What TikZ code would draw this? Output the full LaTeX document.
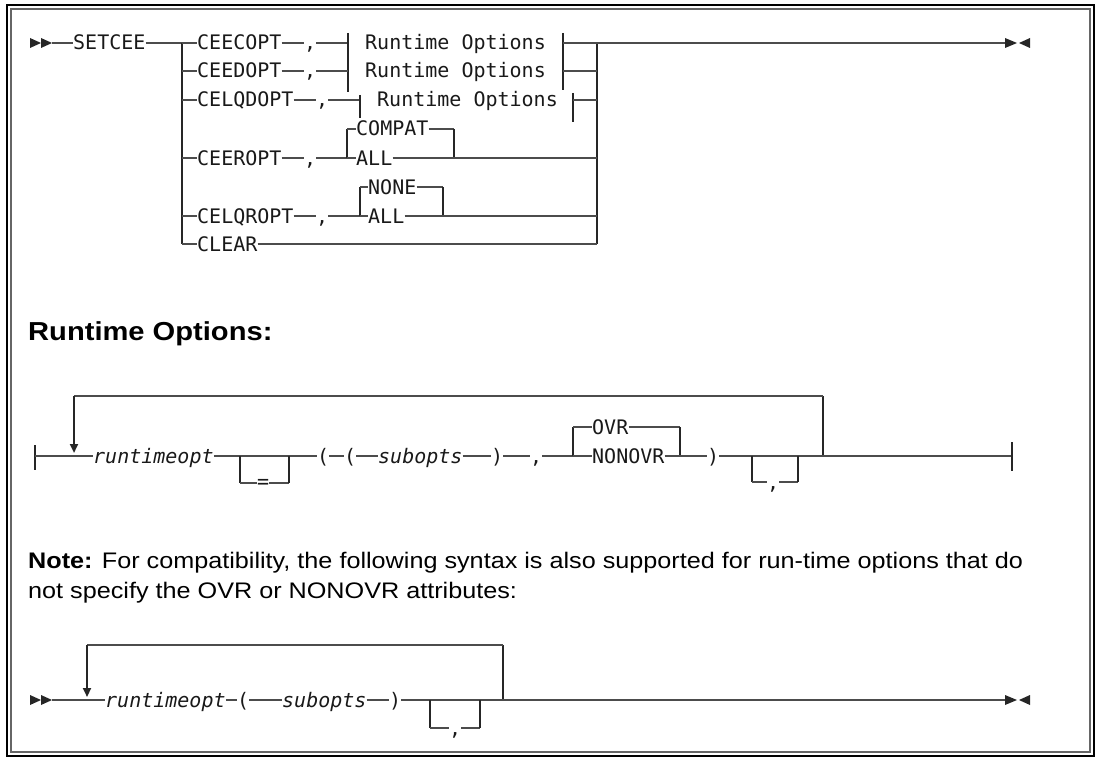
\documentclass[tikz,border=0pt]{standalone}
\usepackage{fontspec}
\setmainfont{Liberation Sans}
\newfontfamily\synfont{DejaVu Sans Mono}
\newfontfamily\notefont[FakeStretch=1.12]{Liberation Sans}
\usetikzlibrary{arrows.meta,positioning,calc}

\tikzset{
  kw/.style={font=\synfont\fontsize{20}{24}\selectfont, text=black!90, inner sep=0pt, text height=14pt, text depth=0pt, anchor=west},
  var/.style={kw, font=\synfont\itshape\fontsize{20}{24}\selectfont},
  ln/.style={draw=black!70, line width=1.3pt},
  bar/.style={draw=black!85, line width=2.6pt},
  backtip/.style={bar, -{Triangle[length=9pt,width=8pt]}, shorten >=3pt},
  prose/.style={anchor=base west, inner sep=0pt, font=\notefont\fontsize{22.5}{26}\selectfont},
}

% double arrowheads at the start and the end of a diagram
\newcommand\startmark[1]{%
  \fill[black!85] (#1) -- ++(-11,-5) -- ++(0,10) -- cycle;
  \fill[black!85] ([xshift=-11pt]#1) -- ++(-11,-5) -- ++(0,10) -- cycle;}
\newcommand\finishmark[1]{%
  \fill[black!85] ([xshift=12pt]#1) -- ++(-12,-5) -- ++(0,10) -- cycle;
  \fill[black!85] ([xshift=14pt]#1) -- ++(11,-5) -- ++(0,10) -- cycle;}

\begin{document}
\begin{tikzpicture}[x=1pt, y=-1pt]
\useasboundingbox (0,0) rectangle (1095,757);

% frame
\draw[black, line width=1.5pt] (7,5) rectangle (1094,756);
\draw[black!60, line width=1.5pt] (11,9) rectangle (1090,752);

% SETCEE
\coordinate (in1) at (52,43);
\node[kw] (setcee)   at (73,43)   {SETCEE};
\coordinate (sp1)  at (182,43);
\coordinate (sp1b) at (182,244);

\node[kw] (ceecopt)  at (197,43)  {CEECOPT};
\node[kw] (c1)       at (304,43)  {,};
\coordinate (b1l) at (348,43);
\node[kw] (rto1)     at (365,43)  {Runtime Options};
\coordinate (b1r) at (563,43);
\coordinate (jn1) at (597,43);
\coordinate (out1) at (1005,43);

\node[kw] (ceedopt)  at (197,71)  {CEEDOPT};
\node[kw] (c2)       at (304,71)  {,};
\coordinate (b2l) at (348,71);
\node[kw] (rto2)     at (365,71)  {Runtime Options};
\coordinate (b2r) at (563,71);
\coordinate (jn2) at (597,71);

\node[kw] (celqdopt) at (197,100) {CELQDOPT};
\node[kw] (c3)       at (316,100) {,};
\coordinate (b3l) at (360,100);
\node[kw] (rto3)     at (377,100) {Runtime Options};
\coordinate (b3r) at (573,100);
\coordinate (jn3) at (597,100);

\node[kw] (ceeropt)  at (197,158) {CEEROPT};
\node[kw] (c4)       at (304,158) {,};
\coordinate (sp4)  at (347,158);
\coordinate (sp4t) at (347,129);
\node[kw] (compat)   at (356,129) {COMPAT};
\coordinate (ja4t) at (454,129);
\coordinate (ja4)  at (454,158);
\node[kw] (all4)     at (356,158) {ALL};
\coordinate (jn4) at (597,158);

\node[kw] (celqropt) at (197,216) {CELQROPT};
\node[kw] (c5)       at (316,216) {,};
\coordinate (sp5)  at (360,216);
\coordinate (sp5t) at (360,187);
\node[kw] (none)     at (368,187) {NONE};
\coordinate (ja5t) at (443,187);
\coordinate (ja5)  at (443,216);
\node[kw] (all5)     at (368,216) {ALL};
\coordinate (jn5) at (597,216);

\node[kw] (clear)    at (197,244) {CLEAR};
\coordinate (jn6) at (597,244);

\startmark{in1}
\draw[ln] (in1) -- (setcee.west);
\draw[ln] (setcee.east) -- (sp1);
\draw[bar] (sp1) -- (sp1b);
\draw[bar] (jn1) -- (jn6);
\draw[ln] (jn1) -- (out1);
\finishmark{out1}

\draw[ln] (sp1) -- (ceecopt.west);
\draw[ln] (ceecopt.east) -- (c1.west);
\draw[ln] (c1.east) -- (b1l);
\draw[bar] ([yshift=10pt]b1l) -- ([yshift=-21pt]b2l);
\draw[bar] ([yshift=10pt]b1r) -- ([yshift=-19pt]b2r);
\draw[ln] (b1r) -- (jn1);

\draw[ln] (sp1 |- ceedopt.west) -- (ceedopt.west);
\draw[ln] (ceedopt.east) -- (c2.west);
\draw[ln] (c2.east) -- (b2l);
\draw[ln] (b2r) -- (jn2);

\draw[ln] (sp1 |- celqdopt.west) -- (celqdopt.west);
\draw[ln] (celqdopt.east) -- (c3.west);
\draw[ln] (c3.east) -- (b3l);
\draw[bar] ([yshift=5pt]b3l) -- ([yshift=-18pt]b3l);
\draw[bar] ([yshift=7pt]b3r) -- ([yshift=-22pt]b3r);
\draw[ln] (b3r) -- (jn3);

\draw[ln] (sp1 |- ceeropt.west) -- (ceeropt.west);
\draw[ln] (ceeropt.east) -- (c4.west);
\draw[ln] (c4.east) -- (sp4);
\draw[bar] (sp4t) -- (sp4);
\draw[ln] (sp4t) -- (compat.west);
\draw[ln] (compat.east) -- (ja4t);
\draw[bar] (ja4t) -- (ja4);
\draw[ln] (sp4) -- (all4.west);
\draw[ln] (all4.east) -- (jn4);

\draw[ln] (sp1 |- celqropt.west) -- (celqropt.west);
\draw[ln] (celqropt.east) -- (c5.west);
\draw[ln] (c5.east) -- (sp5);
\draw[bar] (sp5t) -- (sp5);
\draw[ln] (sp5t) -- (none.west);
\draw[ln] (none.east) -- (ja5t);
\draw[bar] (ja5t) -- (ja5);
\draw[ln] (sp5) -- (all5.west);
\draw[ln] (all5.east) -- (jn5);

\draw[ln] (sp1b) -- (clear.west);
\draw[ln] (clear.east) -- (jn6);

% Runtime Options
\node[prose, font=\notefont\bfseries\fontsize{26}{30}\selectfont] (rthead) at (28,340) {Runtime Options:};

\coordinate (s2) at (35,456);
\coordinate (lp2)  at (74,456);
\coordinate (lp2t) at (74,396);
\node[var] (rtopt2) at (93,456)  {runtimeopt};
\coordinate (eq2l)  at (240,456);
\coordinate (eq2lb) at (240,483);
\node[kw]  (eq2)    at (257,481) {=};
\coordinate (eq2r)  at (289,456);
\coordinate (eq2rb) at (289,483);
\node[kw]  (lp2a)   at (317,456) {(};
\node[kw]  (lp2b)   at (344,456) {(};
\node[var] (sub2)   at (378,456) {subopts};
\node[kw]  (rp2)    at (491,456) {)};
\node[kw]  (cm2)    at (530,456) {,};
\coordinate (ov2l)  at (573,456);
\coordinate (ov2lt) at (573,427);
\node[kw]  (ovr)    at (592,427) {OVR};
\node[kw]  (nonovr) at (592,456) {NONOVR};
\coordinate (ov2rt) at (680,427);
\coordinate (ov2r)  at (680,456);
\node[kw]  (rp2b)   at (707,456) {)};
\coordinate (cb2l)  at (752,456);
\coordinate (cb2lb) at (752,482);
\node[kw]  (cm2b)   at (767,482) {,};
\coordinate (cb2r)  at (798,456);
\coordinate (cb2rb) at (798,482);
\coordinate (rep2)  at (823,456);
\coordinate (rep2t) at (823,396);
\coordinate (e2)    at (1012,456);

\draw[bar] ([yshift=11pt]s2) -- ([yshift=-14pt]s2);
\draw[ln] (s2) -- (rtopt2.west);
\draw[bar] (rep2) -- (rep2t);
\draw[ln] (rep2t) -- (lp2t);
\draw[backtip] (lp2t) -- (lp2);
\draw[ln] (rtopt2.east) -- (lp2a.west);
\draw[bar] (eq2l) -- (eq2lb);
\draw[ln] (eq2lb) -- (eq2lb -| eq2.west);
\draw[ln] (eq2rb -| eq2.east) -- (eq2rb);
\draw[bar] (eq2rb) -- (eq2r);
\draw[ln] (lp2a.east) -- (lp2b.west);
\draw[ln] (lp2b.east) -- (sub2.west);
\draw[ln] (sub2.east) -- (rp2.west);
\draw[ln] (rp2.east) -- (cm2.west);
\draw[ln] (cm2.east) -- (ov2l);
\draw[bar] (ov2lt) -- (ov2l);
\draw[ln] (ov2lt) -- (ovr.west);
\draw[ln] (ovr.east) -- (ov2rt);
\draw[bar] (ov2rt) -- (ov2r);
\draw[ln] (ov2l) -- (nonovr.west);
\draw[ln] (nonovr.east) -- (rp2b.west);
\draw[ln] (rp2b.east) -- (e2);
\draw[bar] (cb2l) -- (cb2lb);
\draw[ln] (cb2lb) -- (cm2b.west);
\draw[ln] (cm2b.east) -- (cb2rb);
\draw[bar] (cb2rb) -- (cb2r);
\draw[bar] ([yshift=14pt]e2) -- ([yshift=-15pt]e2);

% Note
\node[prose] (note1) at (28,568) {\textbf{Note:} For compatibility, the following syntax is also supported for run-time options that do};
\node[prose] (note2) at (28,598) {not specify the OVR or NONOVR attributes:};

% old form
\coordinate (in3)  at (52,700);
\coordinate (lp3)  at (87,700);
\coordinate (lp3t) at (87,645);
\node[var] (rtopt3) at (105,700) {runtimeopt};
\node[kw]  (lp3a)   at (237,700) {(};
\node[var] (sub3)   at (282,700) {subopts};
\node[kw]  (rp3)    at (389,700) {)};
\coordinate (cb3l)  at (430,700);
\coordinate (cb3lb) at (430,728);
\node[kw]  (cm3)    at (449,728) {,};
\coordinate (cb3r)  at (480,700);
\coordinate (cb3rb) at (480,728);
\coordinate (rep3)  at (503,700);
\coordinate (rep3t) at (503,645);
\coordinate (out3)  at (1005,700);

\startmark{in3}
\draw[ln] (in3) -- (rtopt3.west);
\draw[bar] (rep3) -- (rep3t);
\draw[ln] (rep3t) -- (lp3t);
\draw[backtip] (lp3t) -- (lp3);
\draw[ln] (rtopt3.east) -- (lp3a.west);
\draw[ln] (lp3a.east) -- (sub3.west);
\draw[ln] (sub3.east) -- (rp3.west);
\draw[ln] (rp3.east) -- (out3);
\draw[bar] (cb3l) -- (cb3lb);
\draw[ln] (cb3lb) -- (cm3.west);
\draw[ln] (cm3.east) -- (cb3rb);
\draw[bar] (cb3rb) -- (cb3r);
\finishmark{out3}
\end{tikzpicture}
\end{document}
